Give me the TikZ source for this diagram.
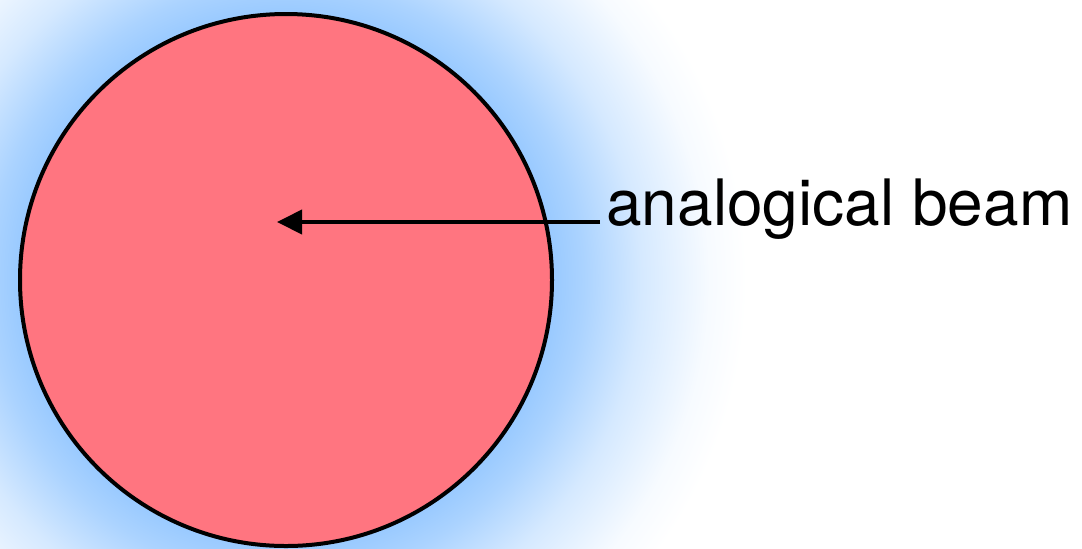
\documentclass[tikz,border=0pt]{standalone}
\usepackage{fontspec}
\setmainfont{TeX Gyre Heros}
\usepackage{tikz}
\usetikzlibrary{arrows.meta,positioning}
\usepackage{xcolor}
\definecolor{beamred}{RGB}{255,117,128}
\definecolor{glowblue}{RGB}{150,200,255}
\pgfdeclareradialshading{beamglow}{\pgfpoint{0bp}{0bp}}{%
  color(0bp)=(glowblue); color(13.6bp)=(glowblue); color(15.5bp)=(glowblue!80!white);
  color(18.5bp)=(glowblue!40!white); color(22bp)=(glowblue!8!white);
  color(24bp)=(white); color(50bp)=(white)}

\begin{document}
\begin{tikzpicture}[
      x=0.5pt, y=-0.5pt, >={Triangle[length=12.5pt, width=12pt]},
      beam/.style={draw, circle, line width=2pt, fill=beamred,
                   minimum size=266pt, inner sep=0pt},
      lbl/.style={font=\fontsize{32}{38}\selectfont, inner sep=3pt, anchor=base west}
    ]
    \useasboundingbox (0,0) rectangle (1082,548);
    \clip (0,0) rectangle (1082,548);

    % soft halo round the beam
    \shade[shading=beamglow] (286,280) circle[radius=240pt];

    \node[beam] (beam) at (286,280) {};
    \coordinate (tip) at (277,222);

    \node[lbl] (label) at (600,225) {analogical beam};

    \draw[->, line width=2pt] (tip -| label.west) -- (tip);
  \end{tikzpicture}
\end{document}
